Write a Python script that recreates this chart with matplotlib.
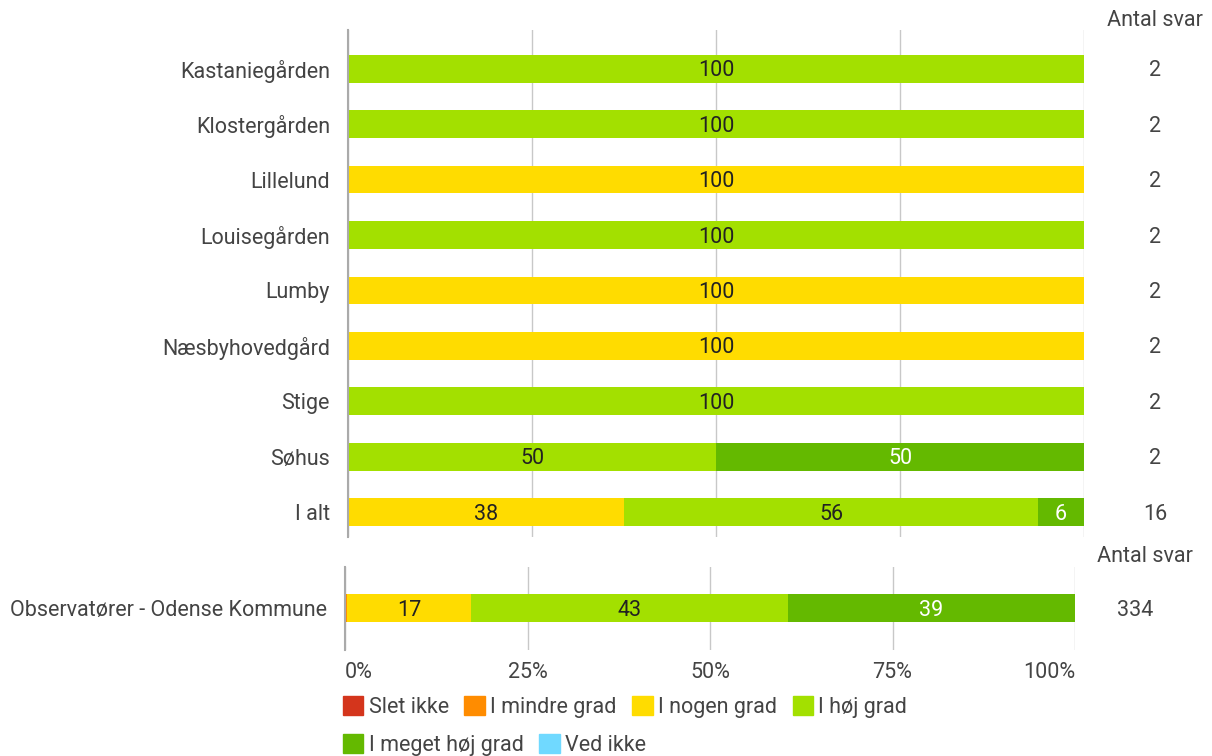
import matplotlib.pyplot as plt
from matplotlib.patches import Patch
from matplotlib.transforms import blended_transform_factory, offset_copy

plt.rcParams["font.family"] = ["Roboto", "DejaVu Sans"]

categories = ["Slet ikke", "I mindre grad", "I nogen grad", "I høj grad",
              "I meget høj grad", "Ved ikke"]
colors = ["#d4351c", "#ff8c00", "#ffdc00", "#a3e000", "#64b900", "#70d9ff"]
text_colors = ["white", "#222222", "#222222", "#222222", "white", "#222222"]

groups = ["Kastaniegården", "Klostergården", "Lillelund", "Louisegården", "Lumby",
          "Næsbyhovedgård", "Stige", "Søhus", "I alt"]
slet_ikke = [0, 0, 0, 0, 0, 0, 0, 0, 0]
mindre = [0, 0, 0, 0, 0, 0, 0, 0, 0]
nogen = [0, 0, 100, 0, 100, 100, 0, 0, 37.5]
hoej = [100, 100, 0, 100, 0, 0, 100, 50, 56.25]
meget_hoej = [0, 0, 0, 0, 0, 0, 0, 50, 6.25]
ved_ikke = [0, 0, 0, 0, 0, 0, 0, 0, 0]
antal = [2, 2, 2, 2, 2, 2, 2, 2, 16]

obs_label = "Observatører - Odense Kommune"
obs_values = [0, 0.3, 17.0, 43.4, 39.3, 0]
obs_antal = 334

W, H = 1212, 756
fig = plt.figure(figsize=(W / 100, H / 100), dpi=100)

TXT = "#444444"
GRID = "#c8c8c8"
FS = 15.5


def box(l, t, r, b):
    return [l / W, 1 - b / H, (r - l) / W, (b - t) / H]


def label_of(v):
    return str(int(v + 0.5))


def draw_rows(ax, labels, series):
    n = len(labels)
    tr = offset_copy(ax.transData, fig=fig, x=0, y=-1.5, units="points")
    for i in range(n):
        left = 0
        for k, vals in enumerate(series):
            v = vals[i]
            if v <= 0:
                continue
            ax.barh(i, v, left=left, height=0.5, color=colors[k], zorder=2)
            if v >= 5:
                ax.text(left + v / 2, i, label_of(v), ha="center", va="center",
                        fontsize=FS, color=text_colors[k], zorder=3, transform=tr)
            left += v
    ax.set_yticks(range(n))
    ax.set_yticklabels(labels, fontsize=FS, color=TXT)
    ax.set_xlim(0, 100)
    ax.set_xticks([0, 25, 50, 75, 100])
    ax.grid(axis="x", color=GRID, linewidth=1, zorder=0)
    for s in ["top", "right", "bottom"]:
        ax.spines[s].set_visible(False)
    ax.spines["left"].set_color("#aaaaaa")
    ax.spines["left"].set_linewidth(1.5)
    ax.tick_params(axis="y", length=0, pad=13)
    ax.tick_params(axis="x", length=0)


# top panel
ax1 = fig.add_axes(box(348, 30, 1084, 537))
top_series = [slet_ikke, mindre, nogen, hoej, meget_hoej, ved_ikke]
draw_rows(ax1, groups, top_series)
ax1.set_ylim(8.45, -0.7)
ax1.set_xticklabels([])
tr1 = offset_copy(blended_transform_factory(fig.transFigure, ax1.transData),
                  fig=fig, x=0, y=-1.5, units="points")
for i, a in enumerate(antal):
    ax1.text(1155 / W, i, str(a), transform=tr1,
             ha="center", va="center", fontsize=FS, color=TXT)
fig.text(1155 / W, 1 - 20 / H, "Antal svar", ha="center", va="center",
         fontsize=FS, color=TXT)

# bottom panel
ax2 = fig.add_axes(box(345, 567, 1075, 650))
obs_series = [[v] for v in obs_values]
draw_rows(ax2, [obs_label], obs_series)
ax2.set_ylim(0.75, -0.74)
xl = ax2.set_xticklabels(["0%", "25%", "50%", "75%", "100%"], fontsize=FS, color=TXT)
xl[0].set_horizontalalignment("left")
xl[-1].set_horizontalalignment("right")
ax2.tick_params(axis="x", pad=9)
tr2 = offset_copy(blended_transform_factory(fig.transFigure, ax2.transData),
                  fig=fig, x=0, y=-1.5, units="points")
ax2.text(1135 / W, 0, str(obs_antal), transform=tr2,
         ha="center", va="center", fontsize=FS, color=TXT)
fig.text(1145 / W, 1 - 557 / H, "Antal svar", ha="center", va="center",
         fontsize=FS, color=TXT)

# legend, two rows
handles = [Patch(facecolor=c, edgecolor=c) for c in colors]
leg_kw = dict(loc="upper left", frameon=False, fontsize=FS, handlelength=0.95,
              handleheight=0.95, handletextpad=0.25, columnspacing=0.72,
              borderpad=0, borderaxespad=0, labelcolor=TXT)
fig.legend(handles[:4], categories[:4], ncol=4,
           bbox_to_anchor=(343 / W, 1 - 696 / H), **leg_kw)
fig.legend(handles[4:], categories[4:], ncol=2,
           bbox_to_anchor=(343 / W, 1 - 734 / H), **leg_kw)

fig.savefig("out.png", dpi=100)
